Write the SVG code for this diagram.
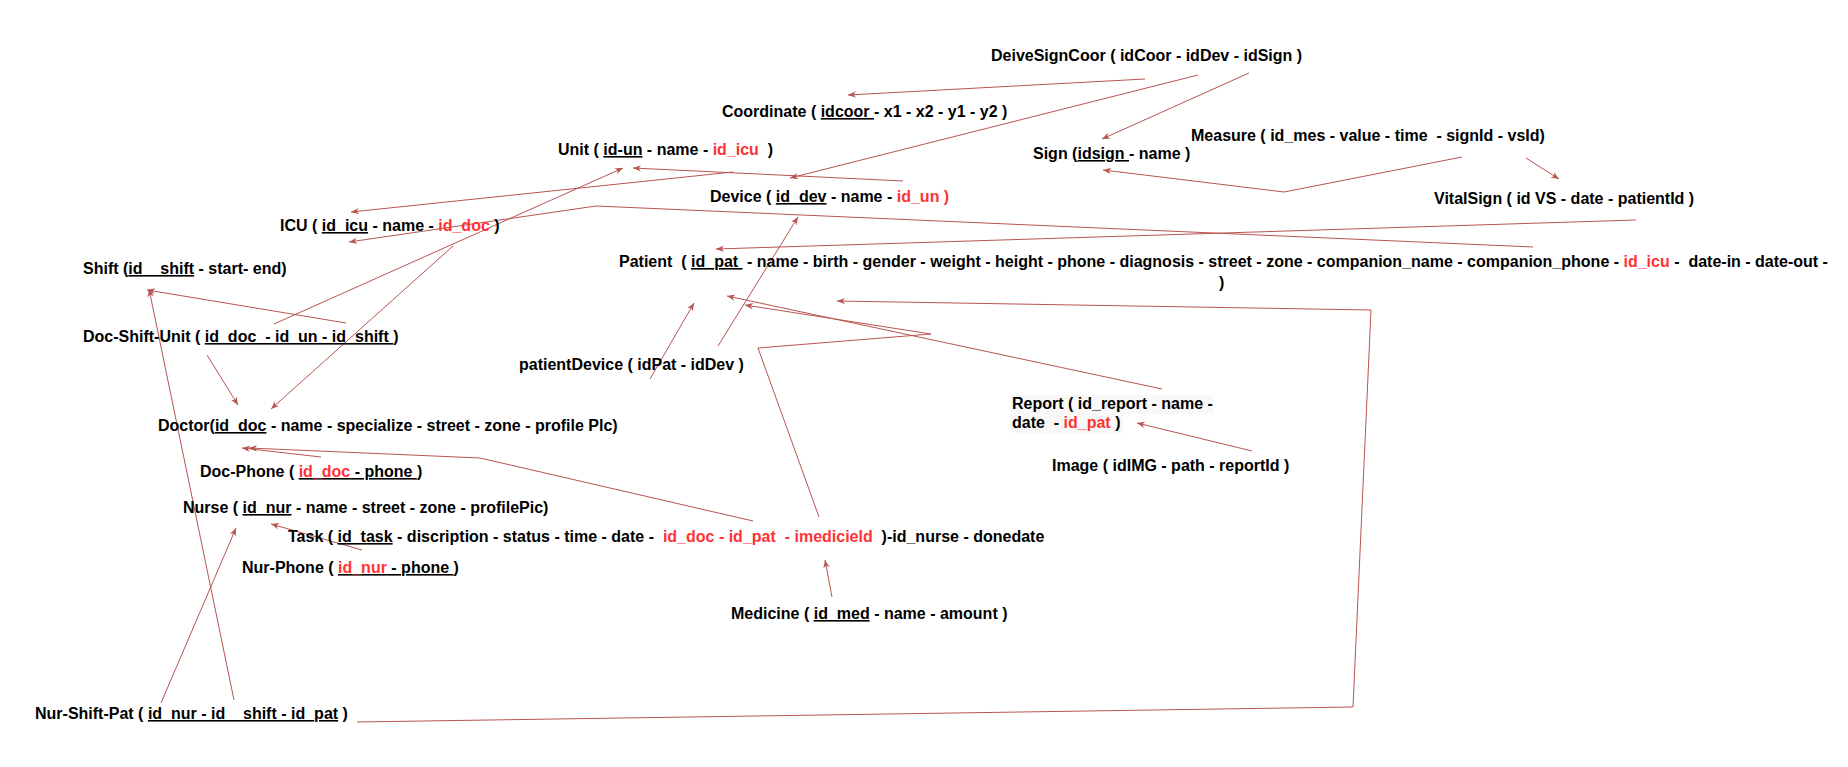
<svg xmlns="http://www.w3.org/2000/svg" width="1848" height="767" viewBox="0 0 1848 767">
  <style>
    .t { font-family: "Liberation Sans", Arial, sans-serif; font-size: 16px; font-weight: bold; fill: #000; white-space: pre; }
    .r { fill: #ff3333; }
    .u { text-decoration: underline; }
    .c { fill: none; stroke: #b85450; stroke-width: 1; marker-end: url(#arr); }
  </style>
  <defs>
    <marker id="arr" viewBox="0 0 10 10" refX="10" refY="5" markerWidth="9" markerHeight="8" markerUnits="userSpaceOnUse" orient="auto">
      <path d="M0,1 L10,5 L0,9 L3,5 Z" fill="#b85450"/>
    </marker>
  </defs>
  <rect width="1848" height="767" fill="#fff"/>

  <!-- connectors -->
  <g id="connectors">
    <polyline class="c" points="1145,79 848,95"/>
    <polyline class="c" points="1198,75 790,178"/>
    <polyline class="c" points="1249,73 1102,139"/>
    <polyline class="c" points="1462,157 1284,192 1103,170"/>
    <polyline class="c" points="1526,158 1559,179"/>
    <polyline class="c" points="1636,220 716,249"/>
    <polyline class="c" points="1533,247 596,206 349,242"/>
    <polyline class="c" points="733,172 351,212"/>
    <polyline class="c" points="903,181 633,168"/>
    <polyline class="c" points="274,324 623,168"/>
    <polyline class="c" points="453,246 271,409"/>
    <polyline class="c" points="346,323 147,290"/>
    <polyline class="c" points="207,355 238,405"/>
    <polyline class="c" points="234,700 149,289"/>
    <polyline class="c" points="161,703 236,528"/>
    <polyline class="c" points="357,722 1353,707 1371,310 837,301"/>
    <polyline class="c" points="753,521 480,458 249,448"/>
    <polyline class="c" points="321,457 242,448"/>
    <polyline class="c" points="819,517 758,348 931,334 745,305"/>
    <polyline class="c" points="1162,389 727,296"/>
    <polyline class="c" points="650,379 694,303"/>
    <polyline class="c" points="718,346 798,217"/>
    <polyline class="c" points="1252,451 1137,423"/>
    <polyline class="c" points="832,597 825,560"/>
    <polyline class="c" points="362,550 271,524"/>
  </g>

  <g id="deviceSignCoor"><text class="t" x="991" y="61">DeiveSignCoor ( idCoor - idDev - idSign )</text></g>
  <g id="coordinate"><text class="t" x="722" y="117">Coordinate ( <tspan class="u">idcoor </tspan>- x1 - x2 - y1 - y2 )</text></g>
  <g id="sign"><text class="t" x="1033" y="159">Sign (<tspan class="u">idsign </tspan>- name )</text></g>
  <g id="measure"><text class="t" x="1191" y="141">Measure ( id_mes - value - time  - signId - vsId)</text></g>
  <g id="vitalSign"><text class="t" x="1434" y="204">VitalSign ( id VS - date - patientId )</text></g>
  <g id="unit"><text class="t" x="558" y="155">Unit ( <tspan class="u">id-un</tspan> - name - <tspan class="r">id_icu</tspan>  )</text></g>
  <g id="device"><text class="t" x="710" y="202">Device ( <tspan class="u">id_dev</tspan> - name - <tspan class="r">id_un )</tspan></text></g>
  <g id="icu"><text class="t" x="280" y="231">ICU ( <tspan class="u">id_icu</tspan> - name - <tspan class="r">id_doc</tspan> )</text></g>
  <g id="patient">
    <text class="t" x="619" y="267">Patient  ( <tspan class="u">id_pat </tspan> - name - birth - gender - weight - height - phone - diagnosis - street - zone - companion_name - companion_phone - <tspan class="r">id_icu</tspan> -  date-in - date-out -</text>
    <text class="t" x="1219" y="288">)</text>
  </g>
  <g id="shift"><text class="t" x="83" y="274">Shift (<tspan class="u">id__shift</tspan> - start- end)</text></g>
  <g id="docShiftUnit"><text class="t" x="83" y="342">Doc-Shift-Unit ( <tspan class="u">id_doc  - id_un - id_shift </tspan>)</text></g>
  <g id="patientDevice"><text class="t" x="519" y="370">patientDevice ( idPat - idDev )</text></g>
  <g id="doctor"><text class="t" x="158" y="431">Doctor(<tspan class="u">id_doc</tspan> - name - specialize - street - zone - profile Plc)</text></g>
  <g id="docPhone"><text class="t" x="200" y="477">Doc-Phone ( <tspan class="u"><tspan class="r">id_doc</tspan> - phone </tspan>)</text></g>
  <g id="nurse"><text class="t" x="183" y="513">Nurse ( <tspan class="u">id_nur</tspan> - name - street - zone - profilePic)</text></g>
  <g id="task"><text class="t" x="288" y="542">Task ( <tspan class="u">id_task</tspan> - discription - status - time - date -  <tspan class="r">id_doc - id_pat  - imedicield</tspan>  )-id_nurse - donedate</text></g>
  <g id="nurPhone"><text class="t" x="242" y="573">Nur-Phone ( <tspan class="u"><tspan class="r">id_nur</tspan> - phone </tspan>)</text></g>
  <g id="report">
    <rect x="1010" y="395" width="203" height="19" fill="#f8f8f8"/>
    <rect x="1010" y="414" width="113" height="19" fill="#f8f8f8"/>
    <text class="t" x="1012" y="409">Report ( id_report - name -</text>
    <text class="t" x="1012" y="428">date  - <tspan class="r">id_pat</tspan> )</text>
  </g>
  <g id="image"><text class="t" x="1052" y="471">Image ( idIMG - path - reportId )</text></g>
  <g id="medicine"><text class="t" x="731" y="619">Medicine ( <tspan class="u">id_med</tspan> - name - amount )</text></g>
  <g id="nurShiftPat"><text class="t" x="35" y="719">Nur-Shift-Pat ( <tspan class="u">id_nur - id__shift - id_pat</tspan> )</text></g>
</svg>
